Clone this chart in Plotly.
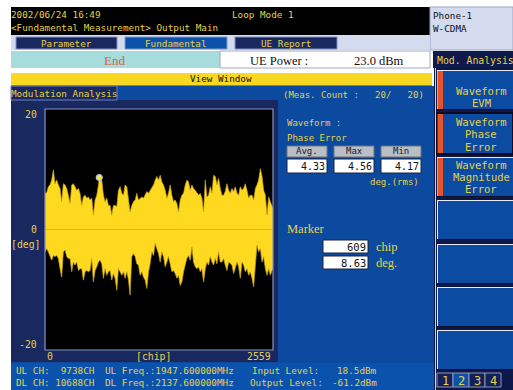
import plotly.graph_objects as go

# ---- phase-error waveform: upper / lower envelope per chip (deg) ----
CHIP = [0, 19, 37, 56, 75, 94, 112, 131, 150, 169,
        187, 206, 225, 244, 262, 281, 300, 318, 337, 356,
        375, 393, 412, 431, 450, 468, 487, 506, 525, 543,
        562, 581, 600, 618, 637, 656, 674, 693, 712, 731,
        749, 768, 787, 806, 824, 843, 862, 881, 899, 918,
        937, 955, 974, 993, 1012, 1030, 1049, 1068, 1087, 1105,
        1124, 1143, 1162, 1180, 1199, 1218, 1237, 1255, 1274, 1293,
        1311, 1330, 1349, 1368, 1386, 1405, 1424, 1443, 1461, 1480,
        1499, 1518, 1536, 1555, 1574, 1592, 1611, 1630, 1649, 1667,
        1686, 1705, 1724, 1742, 1761, 1780, 1799, 1817, 1836, 1855,
        1874, 1892, 1911, 1930, 1948, 1967, 1986, 2005, 2023, 2042,
        2061, 2080, 2098, 2117, 2136, 2155, 2173, 2192, 2211, 2229,
        2248, 2267, 2286, 2304, 2323, 2342, 2361, 2379, 2398, 2417,
        2436, 2454, 2473, 2492, 2511, 2529, 2548, 2559]

UPPER = [6.0, 6.1, 7.1, 7.4, 8.2, 9.9, 7.6, 8.2, 7.4, 6.8,
         4.6, 7.6, 7.4, 6.8, 5.7, 4.3, 7.4, 7.6, 7.1, 6.5,
         6.8, 6.0, 4.0, 5.4, 5.7, 5.2, 5.4, 4.9, 5.2, 2.4,
         4.9, 5.7, 7.4, 8.2, 8.2, 5.7, 4.6, 5.2, 4.0, 4.0,
         2.4, 4.0, 4.0, 3.8, 6.5, 7.1, 6.0, 5.7, 7.4, 7.1,
         4.6, 2.9, 4.0, 4.6, 4.9, 6.0, 4.9, 5.2, 5.4, 5.2,
         5.7, 6.3, 6.0, 6.5, 6.8, 7.4, 8.2, 8.8, 8.2, 9.0,
         7.9, 7.4, 6.5, 5.2, 6.0, 7.4, 5.7, 4.6, 4.9, 4.3,
         2.9, 4.9, 5.7, 6.0, 7.4, 8.2, 7.9, 6.5, 7.4, 6.8,
         6.5, 6.0, 5.7, 6.0, 5.2, 2.9, 8.2, 5.4, 5.7, 7.1,
         6.0, 9.0, 8.8, 7.4, 8.5, 6.8, 5.7, 5.7, 6.3, 7.6,
         6.5, 6.0, 6.8, 6.3, 7.1, 6.0, 5.7, 7.1, 6.5, 6.8,
         7.6, 6.5, 5.2, 5.7, 5.7, 4.9, 6.8, 7.4, 8.2, 10.1,
         8.8, 6.5, 5.7, 2.4, 5.4, 4.6, 4.0, 3.5]

LOWER = [-3.7, -3.2, -3.7, -4.5, -5.1, -4.3, -4.5, -4.3, -4.8, -6.5,
         -7.9, -3.7, -3.4, -4.5, -4.8, -4.8, -7.0, -5.4, -5.9, -5.4,
         -6.8, -6.5, -6.5, -8.4, -7.0, -6.8, -7.0, -6.8, -4.8, -8.7,
         -6.8, -6.2, -5.4, -5.1, -5.7, -8.1, -6.5, -7.6, -7.0, -6.8,
         -8.4, -7.3, -8.1, -10.1, -6.5, -7.0, -7.6, -7.0, -8.1, -7.0,
         -8.4, -10.9, -4.5, -4.0, -4.5, -5.7, -5.9, -7.6, -7.0, -7.9,
         -8.4, -9.8, -7.0, -5.7, -3.7, -4.3, -2.3, -3.2, -4.0, -5.4,
         -3.7, -4.5, -6.2, -5.4, -4.5, -5.7, -7.0, -6.8, -7.3, -8.1,
         -7.6, -9.3, -8.7, -7.0, -5.9, -4.8, -4.3, -5.1, -2.9, -5.4,
         -6.2, -6.5, -6.2, -7.0, -6.5, -8.7, -6.5, -5.4, -5.9, -4.5,
         -5.4, -5.9, -4.8, -5.7, -3.7, -5.4, -5.4, -4.8, -5.9, -6.8,
         -5.4, -5.7, -5.9, -7.3, -6.5, -5.4, -6.2, -8.1, -5.4, -5.9,
         -7.0, -6.5, -7.6, -7.0, -8.1, -9.5, -5.9, -2.6, -3.7, -3.2,
         -5.4, -4.5, -6.5, -7.6, -6.5, -7.6, -6.8, -6.5]

MARKER_CHIP = 609
MARKER_DEG = 8.63

Y_TICKS = [20, 0, -20]
X_TICKS = [0, 2559]

STATS_LABELS = ["Avg.", "Max", "Min"]
STATS_VALUES = ["4.33", "4.56", "4.17"]

W, H = 513, 390
YEL = "#e4d24a"
MONO = "DejaVu Sans Mono"
SERIF = "Liberation Serif"
NAVY = "#1a2860"
BLUE = "#0b4a9e"

shapes, annots = [], []


def px(x):
    return x / W


def py(y):
    return 1 - y / H


def box(x0, y0, x1, y1, fill, edge=None, lw=0, layer="below"):
    shapes.append(dict(type="rect", xref="paper", yref="paper",
                       x0=px(x0), x1=px(x1), y0=py(y1), y1=py(y0),
                       fillcolor=fill, layer=layer,
                       line=dict(color=edge or fill, width=lw)))


def seg(x0, y0, x1, y1, color, lw=1, layer="below"):
    shapes.append(dict(type="line", xref="paper", yref="paper",
                       x0=px(x0), x1=px(x1), y0=py(y0), y1=py(y1),
                       layer=layer, line=dict(color=color, width=lw)))


def text(x, y, s, color=YEL, size=9.3, family=MONO, anchor="left"):
    annots.append(dict(xref="paper", yref="paper", x=px(x), y=py(y),
                       text=s, showarrow=False, xanchor=anchor,
                       yanchor="middle", borderpad=0,
                       font=dict(color=color, size=size, family=family)))


# ---- header ----
box(11, 7, 430, 35, "#000000")
text(10, 15, "2002/06/24 16:49")
text(231, 15, "Loop Mode 1")
text(10, 28, "&lt;Fundamental Measurement&gt; Output Main")
box(430, 7, 513, 50, "#d4dbef", "#9aa4c0", 1)
text(432, 16, "Phone-1", "#101010", 9.3)
text(432, 29, "W-CDMA", "#101010", 9.3)

# ---- tab row ----
box(11, 35, 430, 50, "#d4dbef")
box(16, 37, 117, 49, NAVY, "#8090c0", 1)
text(66, 43, "Parameter", anchor="center")
box(125, 37, 227, 49, "#0d52aa", "#7f9ad0", 1)
text(176, 43, "Fundamental", anchor="center")
box(235, 37, 337, 49, NAVY, "#8090c0", 1)
text(286, 43, "UE Report", anchor="center")

# ---- status row ----
box(11, 51, 220, 68, "#a6dcdc")
text(114, 60, "End", "#d2684a", 13, SERIF, "center")
box(220, 51, 430, 68, "#ffffff", "#a0a8b8", 1)
text(249, 61, "UE Power :", "#101010", 12.5, SERIF)
text(353, 61, "23.0 dBm", "#101010", 12.5, SERIF)
box(433, 51, 513, 68, "#0f1a4c")
text(436, 60, "Mod. Analysis", size=9.8)

# ---- view window band and main panels ----
box(11, 73, 432, 86, "#f8d820")
seg(11, 85.5, 432, 85.5, "#a08a10", 1)
text(221, 79, "View Window", "#101010", 9.3, anchor="center")
box(11, 86, 434, 390, BLUE)
box(11, 100, 278, 362, NAVY)
box(11, 86, 117, 100, NAVY, "#6a82c0", 1)
text(10, 93, "Modulation Analysis", size=9.3)
box(45, 109, 273, 350, "#000000")

# ---- footer ----
box(11, 363, 434, 390, "#0a52ac")
text(15, 370, "UL CH:\u00a0\u00a09738CH")
text(104, 370, "UL Freq.:1947.600000MHz")
text(251, 370, "Input Level:")
text(378, 370, "18.5dBm", anchor="right")
text(15, 382, "DL CH: 10688CH")
text(104, 382, "DL Freq.:2137.600000MHz")
text(249, 382, "Output Level:")
text(378, 382, "-61.2dBm", anchor="right")

# ---- measurement readout ----
text(282, 95, "(Meas. Count :\u00a0\u00a0\u00a020/\u00a0\u00a0\u00a020)", size=9)
text(286, 123, "Waveform :", size=9)
text(286, 138, "Phase Error", size=9)
for i, (lab, val) in enumerate(zip(STATS_LABELS, STATS_VALUES)):
    x0 = 287 + i * 47
    box(x0, 146, x0 + 40, 157, "#b9bdc6", "#6c7480", 1)
    text(x0 + 20, 151.5, lab, "#202020", 9, anchor="center")
    box(x0, 159, x0 + 40, 173, "#ffffff", "#1a2240", 1)
    text(x0 + 39, 166, val, "#101010", 10, anchor="right")
text(420, 182, "deg.(rms)", size=9, anchor="right")

text(286, 229, "Marker", YEL, 12.5, SERIF)
box(323, 240, 368, 253, "#ffffff", "#1a2240", 1)
text(367, 246.5, f"{MARKER_CHIP}", "#101010", 10.5, anchor="right")
text(375, 246.5, "chip", YEL, 12.5, SERIF)
box(323, 256, 368, 269, "#ffffff", "#1a2240", 1)
text(367, 262.5, f"{MARKER_DEG:.2f}", "#101010", 10.5, anchor="right")
text(375, 262.5, "deg.", YEL, 12.5, SERIF)

# ---- right soft-key column ----
box(434, 68, 513, 390, "#0e1848")
seg(435.5, 68, 435.5, 390, "#c8d2ee", 1)


def softkey(y0, y1, lines=(), ys=(), stripe=False, selected=False):
    box(437, y0, 513, y1, "#0b4ba2")
    if selected:
        box(437, y0, 513, y1, "rgba(0,0,0,0)", "#050a20", 2)
    else:
        seg(437, y0 + 0.5, 513, y0 + 0.5, "#e8ecf8", 1)
        seg(437.5, y0, 437.5, y1, "#e8ecf8", 1)
        seg(437, y1 - 0.5, 513, y1 - 0.5, "#08102a", 1)
    if stripe:
        box(437.5, y0 + 1, 443, y1 - 1, "#e8522a")
    for s, y in zip(lines, ys):
        text(481, y, s, size=10.5, anchor="center")


softkey(70, 110, ["Waveform", "EVM"], [91, 103], stripe=True)
softkey(113, 154, ["Waveform", "Phase", "Error"], [122, 134, 147],
        stripe=True, selected=True)
softkey(157, 197, ["Waveform", "Magnitude", "Error"], [165, 177, 189],
        stripe=True)
softkey(200, 240)
softkey(244, 284)
softkey(287, 327)
softkey(330, 370)
for i, d in enumerate(["1", "2", "3", "4"]):
    x0 = 437 + i * 16
    box(x0, 373, x0 + 16, 387, "#0d52aa" if d == "2" else "#142058",
        "#8c98b8", 1)
    text(x0 + 8, 380.5, d, size=12, anchor="center")

# ---- plot axis labels ----
for v in Y_TICKS:
    annots.append(dict(xref="paper", yref="y", x=px(39), y=v, yshift=-5 if v > 0 else (6 if v < 0 else 0),
                       text=str(v).replace("-", "\u2212" if False else "-"),
                       showarrow=False, xanchor="right", yanchor="middle",
                       font=dict(color=YEL, size=9.8, family=MONO)))
text(10, 244, "[deg]", size=9.8)
annots.append(dict(xref="x", yref="paper", x=X_TICKS[0], y=py(356),
                   text=str(X_TICKS[0]), showarrow=False, xanchor="left",
                   yanchor="middle", font=dict(color=YEL, size=9.8, family=MONO)))
annots.append(dict(xref="x", yref="paper", x=X_TICKS[1], y=py(356),
                   text=str(X_TICKS[1]), showarrow=False, xanchor="right",
                   yanchor="middle", font=dict(color=YEL, size=9.8, family=MONO)))
text(153, 356, "[chip]", size=9.8, anchor="center")

# zero reference line and frame of the waveform area
shapes.append(dict(type="line", xref="x", yref="y", x0=X_TICKS[0], x1=X_TICKS[1],
                   y0=0, y1=0, layer="above",
                   line=dict(color="#a9b4c6", width=1)))
box(45, 109, 273, 350, "rgba(0,0,0,0)", "#8494c4", 1.2, layer="above")

# ---- traces ----
up = sorted(zip(CHIP + [MARKER_CHIP], UPPER + [MARKER_DEG]))
fig = go.Figure()
fig.add_trace(go.Scatter(x=[p[0] for p in up], y=[p[1] for p in up],
                         mode="lines", fill="tozeroy", fillcolor="#ffd820",
                         line=dict(color="#c9a414", width=0.7),
                         hoverinfo="skip", showlegend=False))
fig.add_trace(go.Scatter(x=CHIP, y=LOWER, mode="lines", fill="tozeroy",
                         fillcolor="#ffd820",
                         line=dict(color="#c9a414", width=0.7),
                         hoverinfo="skip", showlegend=False))
fig.add_trace(go.Scatter(x=[MARKER_CHIP], y=[MARKER_DEG], mode="markers",
                         marker=dict(color="#ffe23a", size=6,
                                     line=dict(color="#a8c4e4", width=1.2)),
                         hoverinfo="skip", showlegend=False))

fig.update_layout(
    width=W, height=390, margin=dict(l=0, r=0, t=0, b=0),
    paper_bgcolor="#ffffff", plot_bgcolor="rgba(0,0,0,0)",
    xaxis=dict(domain=[px(45), px(273)], range=[0, 2559], visible=False),
    yaxis=dict(domain=[py(350), py(109)], range=[-20, 20], visible=False),
    shapes=shapes, annotations=annots,
)
fig.write_html("out.html")
